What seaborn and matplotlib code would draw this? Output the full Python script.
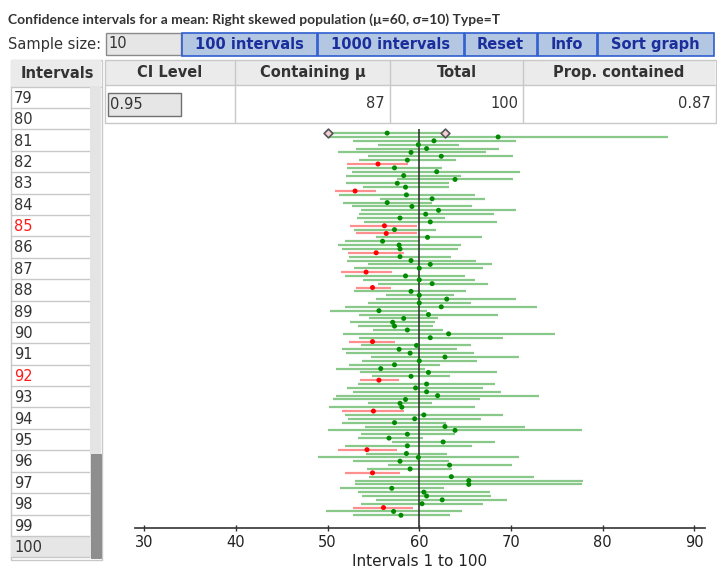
import numpy as np
import pandas as pd
import matplotlib
matplotlib.use('Agg')
import matplotlib.pyplot as plt
from matplotlib.patches import Rectangle
import seaborn as sns

# population mean and the 100 simulated intervals (interval 1 at the bottom)
mu = 60
lower = [52.8, 49.8, 52.8, 53.6, 55.3, 53.8, 53.3, 51.4, 53.0, 53.0,
         54.5, 51.9, 54.3, 56.6, 52.8, 49.0, 54.2, 51.1, 51.9, 57.0,
         53.3, 53.6, 50.0, 54.1, 51.6, 52.2, 51.9, 51.6, 50.2, 54.4,
         50.6, 50.9, 52.8, 52.1, 53.3, 53.5, 54.8, 53.5, 50.9, 52.3,
         53.8, 54.7, 52.0, 51.6, 53.6, 52.3, 53.4, 51.7, 55.0, 53.3,
         52.5, 54.5, 53.4, 50.3, 51.9, 54.4, 55.3, 56.4, 52.9, 53.1,
         55.5, 53.9, 51.9, 51.5, 52.9, 54.4, 52.1, 52.3, 52.2, 51.6,
         51.1, 51.9, 55.3, 53.1, 52.9, 52.5, 54.0, 53.2, 53.4, 53.7,
         52.7, 51.7, 55.7, 51.3, 50.8, 53.9, 52.0, 57.6, 52.0, 52.7,
         52.1, 52.1, 53.4, 54.4, 51.1, 53.1, 55.5, 52.8, 50.2, 50.1]
means = [58.0, 57.2, 56.1, 60.3, 62.5, 60.8, 60.5, 57.0, 65.4, 65.4,
         63.5, 54.9, 59.0, 63.3, 57.9, 59.9, 58.6, 54.3, 58.7, 62.6,
         56.7, 58.7, 63.9, 62.8, 57.3, 59.5, 60.5, 55.0, 58.1, 57.9,
         58.5, 62.0, 60.8, 59.6, 60.8, 55.6, 59.1, 61.0, 55.8, 57.3,
         60.0, 62.8, 59.0, 57.8, 59.7, 54.9, 61.2, 63.2, 58.7, 57.3,
         57.1, 58.3, 61.0, 55.6, 62.4, 60.0, 63.0, 60.0, 59.1, 54.9,
         61.4, 60.0, 58.5, 54.2, 60.0, 61.2, 59.1, 57.9, 55.3, 57.9,
         57.8, 56.0, 60.9, 56.4, 57.3, 56.2, 61.2, 57.9, 60.7, 62.1,
         59.2, 56.5, 61.4, 58.6, 53.0, 58.5, 57.6, 63.9, 58.3, 61.9,
         57.3, 55.5, 58.7, 62.4, 59.1, 60.8, 59.9, 61.6, 68.6, 56.5]
upper = [63.3, 64.7, 59.3, 66.9, 69.6, 67.8, 67.7, 62.7, 77.8, 77.9,
         72.5, 57.9, 63.6, 70.1, 63.2, 70.9, 63.0, 57.6, 65.8, 68.3,
         60.4, 63.9, 77.8, 71.5, 62.9, 66.7, 69.1, 58.3, 66.1, 61.4,
         66.6, 73.1, 68.9, 66.9, 68.3, 57.8, 63.4, 68.5, 60.6, 62.3,
         66.3, 70.9, 66.0, 64.1, 65.6, 57.4, 69.1, 74.8, 62.6, 61.5,
         61.7, 62.0, 68.6, 60.8, 72.8, 65.6, 70.6, 63.8, 65.1, 56.9,
         67.5, 66.1, 65.0, 57.0, 67.0, 67.9, 66.2, 63.5, 58.3, 64.2,
         64.5, 60.1, 66.8, 59.7, 61.8, 59.8, 68.5, 62.8, 68.2, 70.6,
         65.8, 61.4, 67.2, 66.1, 55.3, 63.2, 63.2, 70.2, 64.6, 71.0,
         62.5, 58.8, 64.0, 70.2, 67.3, 68.7, 64.3, 70.6, 87.1, 62.8]
tick_values = [30, 40, 50, 60, 70, 80, 90]
list_numbers = list(range(79, 101))
buttons = ['100 intervals', '1000 intervals', 'Reset', 'Info', 'Sort graph']
table_headers = ['CI Level', 'Containing μ', 'Total', 'Prop. contained']
ci_level = '0.95'
sample_size = '10'

df = pd.DataFrame({'interval': np.arange(1, len(lower) + 1),
                   'lower': lower, 'mean': means, 'upper': upper})
df['contains'] = (df['lower'] <= mu) & (df['upper'] >= mu)
n_in = int(df['contains'].sum())
n_tot = len(df)

sns.set_theme(style='white')
plt.rcParams['font.family'] = ['DejaVu Sans']
txt = '#333333'
grid = '#c8c8c8'
header_bg = '#ebebeb'

fig = plt.figure(figsize=(7.17, 5.8), dpi=100)
fig.patch.set_facecolor('white')
renderer = fig.canvas.get_renderer()

# page layer in pixel coordinates
bg = fig.add_axes([0, 0, 1, 1])
bg.set_xlim(0, 717)
bg.set_ylim(580, 0)
bg.axis('off')


def fit_text(ax, x, y, s, width, **kw):
    t = ax.text(x, y, s, **kw)
    w = t.get_window_extent(renderer).width
    t.set_fontsize(t.get_fontsize() * width / w)
    return t


def box(x0, y0, x1, y1, fc='none', ec=grid, lw=1.0, z=1):
    bg.add_patch(Rectangle((x0, y0), x1 - x0, y1 - y0, facecolor=fc,
                           edgecolor=ec, linewidth=lw, zorder=z))


# title
fit_text(bg, 8, 20, 'Confidence intervals for a mean: Right skewed population (μ=60, σ=10) Type=T',
         489, fontsize=11, fontweight='bold', color=txt, va='center', ha='left',
         family=['Lato', 'DejaVu Sans'])

# sample size and buttons
bg.text(8, 44, 'Sample size:', fontsize=10.5, color=txt, va='center', ha='left')
box(105.5, 32.5, 180.5, 54.5, fc='#e6e6e6', ec='#8a8a8a')
bg.text(108, 44, sample_size, fontsize=10.5, color=txt, va='center', ha='left')
edges = [181, 317, 464, 537, 597, 714]
for i, label in enumerate(buttons):
    box(edges[i] + 0.5, 32.5, edges[i + 1] - 0.5, 55.5, fc='#b3c6e2', ec='#2f5fcf', lw=1.2)
    bg.text((edges[i] + edges[i + 1]) / 2, 44.5, label, fontsize=10.5, fontweight='bold',
            color='#1a2f9c', va='center', ha='center')

# intervals list on the left
row_h = 21.4
row_top = 86.5
box(10.5, 59.5, 101.5, 560, fc='white', ec=grid)
box(11, 60, 101, row_top, fc=header_bg, ec='none')
bg.text(57, 74, 'Intervals', fontsize=10.5, fontweight='bold', color=txt, va='center', ha='center')
bg.plot([11, 101], [row_top, row_top], color=grid, lw=1)
contains_by_num = dict(zip(df['interval'], df['contains']))
for j, num in enumerate(list_numbers):
    y0 = row_top + j * row_h
    if num == list_numbers[-1]:
        box(11, y0, 90, y0 + row_h, fc='#e6e6e6', ec='none')
    bg.plot([11, 90], [y0 + row_h, y0 + row_h], color=grid, lw=1)
    color = txt if contains_by_num[num] else '#ff1a1a'
    bg.text(14, y0 + row_h / 2 + 1, str(num), fontsize=10.5, color=color, va='center', ha='left')
box(90, row_top, 101, 558, fc='#e4e4e4', ec='none', z=2)
box(90.5, 454, 100.5, 557.5, fc='#8e8e8e', ec='#7a7a7a', lw=0.5, z=3)

# summary table
cols = [105, 235, 390, 523, 715]
box(105, 60, 715, 85, fc=header_bg, ec='none')
box(104.5, 59.5, 715.5, 122.5, fc='none', ec=grid)
bg.plot([105, 715], [85, 85], color=grid, lw=1)
for c in cols[1:-1]:
    bg.plot([c, c], [60, 122], color=grid, lw=1)
for i, h in enumerate(table_headers):
    bg.text((cols[i] + cols[i + 1]) / 2, 72.5, h, fontsize=10.5, fontweight='bold',
            color=txt, va='center', ha='center')
box(107.5, 92.5, 180.5, 115.5, fc='#e6e6e6', ec='#707070')
bg.text(110, 104.5, ci_level, fontsize=10.5, color=txt, va='center', ha='left')
bg.text(385, 103.5, str(n_in), fontsize=10.5, color=txt, va='center', ha='right')
bg.text(518, 103.5, str(n_tot), fontsize=10.5, color=txt, va='center', ha='right')
bg.text(711, 103.5, f'{n_in / n_tot:.2f}', fontsize=10.5, color=txt, va='center', ha='right')

# interval plot
ax = fig.add_axes([135 / 717, (580 - 528.3) / 580, 570 / 717, (528.3 - 125) / 580])
ax.set_facecolor('none')
ax.hlines(df['interval'], df['lower'], df['upper'],
          colors=np.where(df['contains'], '#88c888', '#ff8f8f'), linewidth=1.6, zorder=2)
ax.vlines(mu, -2.4, 101, color='#333333', linewidth=1.2, zorder=3)
sns.scatterplot(data=df, x='mean', y='interval', hue='contains',
                palette={True: '#008a00', False: '#ff0000'}, s=13, linewidth=0,
                legend=False, ax=ax, zorder=4)
top = df.iloc[-1]
ax.scatter([top['lower'], top['upper']], [top['interval'], top['interval']], marker='D', s=20,
           facecolor='#f4cfd6', edgecolor='#555555', linewidth=1.2, zorder=5)

ax.set_xlim(29.0, 91.16)
ax.set_ylim(-2.37, 102.1)
for side in ['top', 'left', 'right']:
    ax.spines[side].set_visible(False)
ax.spines['bottom'].set_color('#333333')
ax.spines['bottom'].set_linewidth(1.2)
ax.set_xticks(tick_values)
ax.set_yticks([])
ax.tick_params(axis='x', direction='inout', length=5, width=1, colors='#333333',
               labelsize=10.5, labelcolor='#222222', pad=2, bottom=True)
ax.set_xlabel('Intervals 1 to 100', fontsize=11, color='#222222', labelpad=3)
ax.set_ylabel('')

fig.savefig('out.png', dpi=100)
